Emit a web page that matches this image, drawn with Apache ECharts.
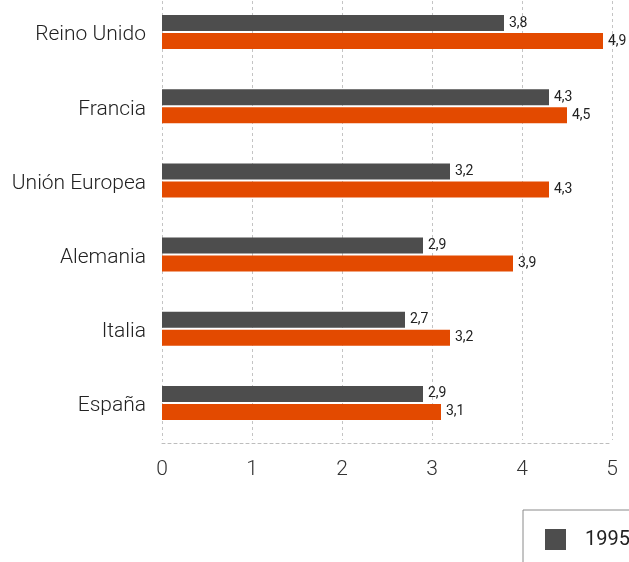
<!DOCTYPE html>
<html>
<head>
<meta charset="utf-8">
<script src="https://cdn.jsdelivr.net/npm/echarts@6/dist/echarts.min.js"></script>
<style>
  html, body { margin: 0; padding: 0; background: #fff; }
  #chart { width: 629px; height: 562px; }
</style>
</head>
<body>
<div id="chart"></div>
<script>
// Countries, listed bottom to top for the category axis
const categories = ['España', 'Italia', 'Alemania', 'Unión Europea', 'Francia', 'Reino Unido'];
const seriesNames = ['1995', '2005'];
const values1995 = [2.9, 2.7, 2.9, 3.2, 4.3, 3.8];
const values2005 = [3.1, 3.2, 3.9, 4.3, 4.5, 4.9];
const xTicks = [0, 1, 2, 3, 4, 5];

const FONT = 'Roboto, "Noto Sans", sans-serif';
const fmt = p => String(p.value).replace('.', ',');

const chart = echarts.init(document.getElementById('chart'), null, { renderer: 'canvas' });

chart.setOption({
  animation: false,
  textStyle: { fontFamily: FONT },
  grid: { left: 162, right: 17, top: -5, bottom: 122, containLabel: false, outerBoundsMode: 'none' },
  legend: {
    data: seriesNames,
    left: 523,
    top: 510,
    orient: 'horizontal',
    borderColor: '#8a8a8a',
    borderWidth: 1,
    padding: [19, 22, 19, 22],
    itemWidth: 21,
    itemHeight: 21,
    itemGap: 30,
    icon: 'rect',
    textStyle: { fontFamily: FONT, fontSize: 20, color: '#222', padding: [0, 0, 0, 14] }
  },
  xAxis: {
    type: 'value',
    min: xTicks[0],
    max: xTicks[xTicks.length - 1],
    interval: 1,
    offset: 3,
    axisLine: { show: true, lineStyle: { color: '#bdbdbd', type: [3, 3], width: 1 } },
    axisTick: { show: false },
    axisLabel: { fontFamily: FONT, fontSize: 21, fontWeight: 300, color: '#333', margin: 16 },
    splitLine: { show: true, lineStyle: { color: '#c4c4c4', type: [3, 3], width: 1 } }
  },
  yAxis: {
    type: 'category',
    data: categories,
    axisLine: { show: false },
    axisTick: { show: false },
    axisLabel: {
      margin: 16,
      formatter: v => '{c|' + v + '}',
      rich: {
        c: { fontFamily: FONT, fontSize: 21, fontWeight: 300, color: '#222', padding: [6, 0, 0, 0] }
      }
    },
    splitLine: { show: false }
  },
  series: [
    {
      name: seriesNames[0],
      type: 'bar',
      data: values1995,
      barWidth: 16,
      barGap: '12%',
      itemStyle: { color: '#4d4d4d' },
      label: { show: true, position: 'right', distance: 5, formatter: fmt,
               fontFamily: FONT, fontSize: 14, color: '#222' }
    },
    {
      name: seriesNames[1],
      type: 'bar',
      data: values2005,
      barWidth: 16,
      barGap: '12%',
      itemStyle: { color: '#e34a00' },
      label: { show: true, position: 'right', distance: 5, formatter: fmt,
               fontFamily: FONT, fontSize: 14, color: '#222' }
    }
  ]
});
</script>
</body>
</html>
